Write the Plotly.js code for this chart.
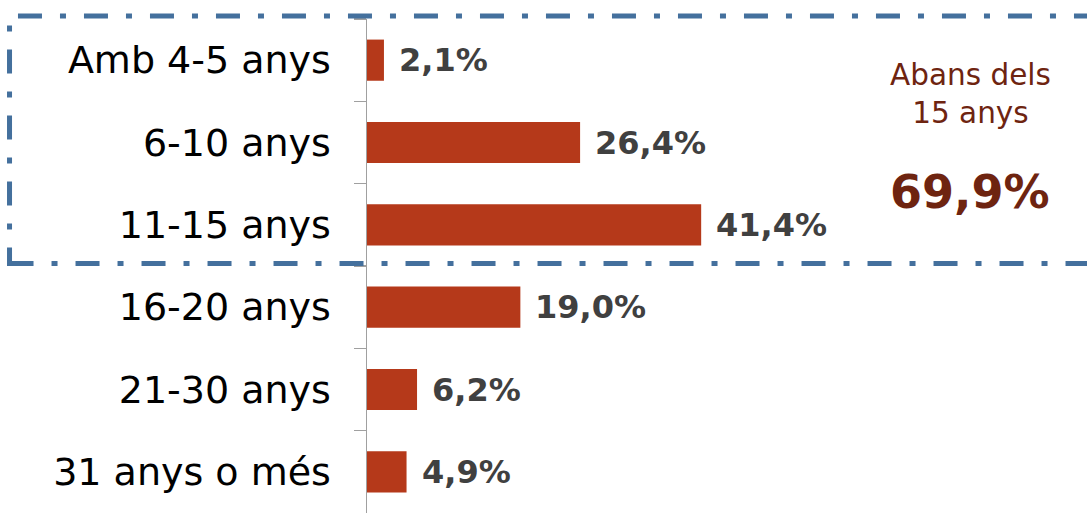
<!DOCTYPE html>
<html>
<head>
<meta charset="utf-8">
<script src="https://cdn.plot.ly/plotly-3.0.1.min.js"></script>
<style>html,body{margin:0;padding:0;background:#fff;}</style>
</head>
<body>
<div id="chart" style="width:1087px;height:513px;"></div>
<script>
const categories = ["Amb 4-5 anys", "6-10 anys", "11-15 anys", "16-20 anys", "21-30 anys", "31 anys o més"];
const values = [2.1, 26.4, 41.4, 19.0, 6.2, 4.9];
const groupCount = 3; // first three categories: "Abans dels 15 anys"
const groupLabel = "Abans dels<br>15 anys";

const fmt = v => v.toFixed(1).replace('.', ',') + '%';
const groupTotal = values.slice(0, groupCount).reduce((a, b) => a + b, 0);

const FONT = '"DejaVu Sans", Verdana, sans-serif';

const trace = {
  type: 'bar',
  orientation: 'h',
  x: values,
  y: categories,
  marker: {color: '#B5391A'},
  hoverinfo: 'none'
};

const valueAnnotations = categories.map((c, i) => ({
  x: values[i], y: c, xref: 'x', yref: 'y',
  text: fmt(values[i]), showarrow: false,
  xanchor: 'left', yanchor: 'middle', xshift: 13,
  font: {family: FONT, size: 32, color: '#404040', weight: 'bold'}
}));

const layout = {
  width: 1087, height: 513,
  margin: {l: 367, r: 0, t: 19, b: 0, pad: 0},
  paper_bgcolor: '#ffffff', plot_bgcolor: '#ffffff',
  showlegend: false,
  bargap: 0.5,
  xaxis: {range: [0, 89.2], visible: false, fixedrange: true},
  yaxis: {
    type: 'category', autorange: 'reversed',
    tickson: 'boundaries', ticks: 'outside', ticklen: 12, tickcolor: '#A0A0A0', tickwidth: 1.5,
    showline: true, linecolor: '#A0A0A0', linewidth: 1.5,
    showgrid: false, ticklabelstandoff: 27,
    tickfont: {family: FONT, size: 38, color: '#000000'}
  },
  annotations: valueAnnotations.concat([
    {xref: 'paper', yref: 'paper', x: 0.8375, y: 0.849, text: groupLabel, showarrow: false,
     xanchor: 'center', yanchor: 'middle', align: 'center',
     font: {family: FONT, size: 29.5, color: '#6E2410'}},
    {xref: 'paper', yref: 'paper', x: 0.8375, y: 0.649, text: fmt(groupTotal), showarrow: false,
     xanchor: 'center', yanchor: 'middle',
     font: {family: FONT, size: 46, color: '#6E2410', weight: 'bold'}}
  ]),
  shapes: [{
    type: 'rect', xref: 'paper', yref: 'paper',
    x0: -0.4965, x1: 1.05, y0: 0.505, y1: 1.006,
    line: {color: '#44709D', width: 5, dash: '24px,18px,6px,18px'},
    fillcolor: 'rgba(0,0,0,0)', layer: 'above'
  }]
};

Plotly.newPlot('chart', [trace], layout, {staticPlot: true, displayModeBar: false});
</script>
</body>
</html>
